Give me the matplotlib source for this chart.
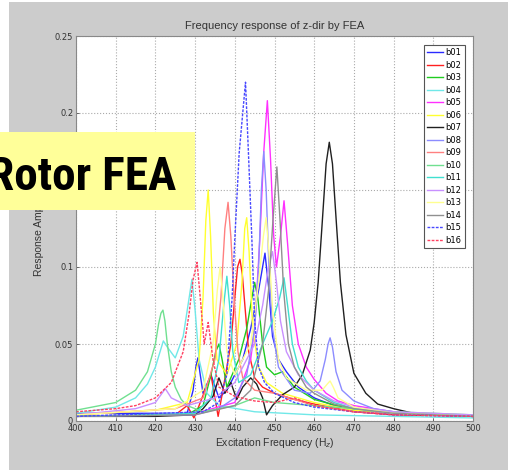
import matplotlib
matplotlib.use("Agg")
import matplotlib.pyplot as plt
from matplotlib.patches import Rectangle

# ---------------- data ----------------
names = ["b01", "b02", "b03", "b04", "b05", "b06", "b07", "b08",
         "b09", "b10", "b11", "b12", "b13", "b14", "b15", "b16"]

f_b01 = [400, 428, 429.5, 430.2, 430.7, 431.3, 432, 434, 436, 438, 440, 442, 444, 446, 447.6, 448.6, 449.5, 451, 453, 456, 460, 465, 470, 480, 500]
a_b01 = [0.005, 0.005, 0.02, 0.035, 0.041, 0.03, 0.018, 0.03, 0.015, 0.02, 0.03, 0.04, 0.06, 0.085, 0.109, 0.085, 0.055, 0.04, 0.032, 0.022, 0.015, 0.01, 0.007, 0.005, 0.003]

f_b02 = [400, 425, 428, 429.7, 431, 434, 435.8, 437, 439, 440, 440.7, 441.3, 441.9, 442.7, 443.5, 445, 447, 450, 455, 460, 470, 480, 500]
a_b02 = [0.003, 0.004, 0.01, 0.002, 0.01, 0.03, 0.003, 0.02, 0.05, 0.08, 0.1, 0.105, 0.095, 0.07, 0.045, 0.028, 0.022, 0.018, 0.014, 0.011, 0.006, 0.004, 0.003]

f_b03 = [400, 428, 432, 434, 435.2, 436, 436.8, 438, 441, 443, 444.3, 445, 445.8, 447, 448, 450, 452, 455, 460, 470, 480, 500]
a_b03 = [0.003, 0.004, 0.01, 0.03, 0.045, 0.05, 0.04, 0.022, 0.04, 0.06, 0.08, 0.09, 0.08, 0.05, 0.035, 0.03, 0.032, 0.022, 0.014, 0.007, 0.005, 0.003]

f_b04 = [400, 410, 415, 418, 420, 422, 423, 425, 427, 428.5, 429.2, 430, 431, 433, 436, 445, 460, 500]
a_b04 = [0.005, 0.009, 0.015, 0.024, 0.035, 0.052, 0.048, 0.041, 0.055, 0.08, 0.092, 0.072, 0.04, 0.018, 0.01, 0.006, 0.004, 0.002]

f_b05 = [400, 430, 440, 444, 445, 446.3, 447.3, 448.2, 449, 449.8, 450.5, 451.5, 452.4, 453.3, 454.5, 456, 458, 460, 463, 466, 470, 480, 490, 500]
a_b05 = [0.003, 0.005, 0.012, 0.04, 0.06, 0.118, 0.175, 0.208, 0.17, 0.12, 0.1, 0.12, 0.143, 0.115, 0.075, 0.05, 0.035, 0.027, 0.018, 0.013, 0.01, 0.006, 0.004, 0.003]

f_b06 = [400, 420, 428, 431, 432, 432.7, 433.3, 433.9, 434.6, 435.5, 438, 440.5, 441.8, 442.5, 443, 443.6, 444.5, 446, 448, 452, 460, 470, 500]
a_b06 = [0.004, 0.007, 0.012, 0.04, 0.08, 0.13, 0.15, 0.12, 0.07, 0.04, 0.03, 0.05, 0.09, 0.125, 0.132, 0.11, 0.06, 0.035, 0.025, 0.018, 0.012, 0.007, 0.003]

f_b07 = [400, 420, 430, 432, 434.5, 436, 437.5, 439, 440.5, 442, 444, 445.5, 447, 448, 449.5, 452, 455, 457,
         459, 460, 461, 462, 463, 463.8, 464.6, 465.6, 466.6, 468, 470, 473, 476, 480, 485, 490, 500]
a_b07 = [0.003, 0.003, 0.004, 0.008, 0.016, 0.028, 0.018, 0.025, 0.014, 0.022, 0.028, 0.024, 0.015, 0.004, 0.01, 0.017, 0.022, 0.03,
         0.046, 0.064, 0.09, 0.128, 0.167, 0.181, 0.167, 0.128, 0.09, 0.056, 0.031, 0.018, 0.011, 0.008, 0.005, 0.004, 0.003]

f_b08 = [400, 430, 436, 440, 443, 445, 446, 446.7, 447.3, 447.9, 448.6, 449.5, 451, 455, 459, 461.5, 462.8, 463.5, 464, 464.6, 465.5, 467, 470, 475, 480, 490, 500]
a_b08 = [0.003, 0.004, 0.008, 0.015, 0.03, 0.06, 0.1, 0.15, 0.175, 0.15, 0.1, 0.06, 0.035, 0.02, 0.018, 0.026, 0.04, 0.05, 0.054, 0.048, 0.032, 0.02, 0.013, 0.008, 0.006, 0.004, 0.003]

f_b09 = [400, 425, 432, 435, 436.5, 437.5, 438.3, 439, 439.8, 440.8, 442, 445, 450, 455, 460, 470, 500]
a_b09 = [0.004, 0.008, 0.015, 0.04, 0.08, 0.125, 0.142, 0.12, 0.08, 0.045, 0.028, 0.02, 0.018, 0.014, 0.01, 0.006, 0.003]

f_b10 = [400, 410, 415, 418, 420, 420.8, 421.4, 421.9, 422.4, 423, 424, 425, 426.5, 428, 432, 440, 445, 450, 460, 470, 480, 500]
a_b10 = [0.007, 0.012, 0.02, 0.032, 0.05, 0.063, 0.07, 0.072, 0.065, 0.05, 0.032, 0.022, 0.014, 0.01, 0.006, 0.01, 0.015, 0.012, 0.01, 0.008, 0.006, 0.004]

f_b11 = [400, 430, 434, 436, 437.2, 438, 438.7, 439.5, 441, 444, 447, 449.5, 451.3, 452.4, 453.3, 454.5, 456, 458, 460, 465, 470, 480, 500]
a_b11 = [0.003, 0.005, 0.015, 0.04, 0.075, 0.094, 0.075, 0.045, 0.025, 0.03, 0.05, 0.065, 0.08, 0.093, 0.075, 0.05, 0.035, 0.026, 0.02, 0.012, 0.008, 0.005, 0.003]

f_b12 = [400, 415, 420, 422.5, 424, 428, 435, 440, 445, 447, 448.5, 449.5, 450.5, 451.5, 453, 456, 460, 465, 470, 480, 500]
a_b12 = [0.004, 0.008, 0.012, 0.021, 0.015, 0.01, 0.015, 0.025, 0.05, 0.075, 0.1, 0.11, 0.09, 0.065, 0.045, 0.03, 0.02, 0.013, 0.009, 0.006, 0.004]

f_b13 = [400, 425, 432, 434.5, 435.6, 436.3, 437, 438, 440, 444, 446, 447.2, 447.9, 448.6, 449.6, 451, 453, 458, 462, 463.3, 464, 464.8, 466, 470, 480, 500]
a_b13 = [0.004, 0.008, 0.02, 0.05, 0.085, 0.1, 0.08, 0.045, 0.03, 0.05, 0.09, 0.12, 0.132, 0.11, 0.07, 0.04, 0.028, 0.02, 0.02, 0.024, 0.026, 0.022, 0.015, 0.009, 0.005, 0.003]

f_b14 = [400, 430, 440, 444, 447, 448.5, 449.6, 450.6, 451.4, 452.3, 453.5, 455, 458, 460, 465, 470, 480, 500]
a_b14 = [0.003, 0.004, 0.01, 0.02, 0.05, 0.085, 0.13, 0.165, 0.13, 0.085, 0.05, 0.035, 0.022, 0.018, 0.011, 0.008, 0.005, 0.003]

f_b15 = [400, 432, 436, 438, 439.3, 440, 441.1, 442, 442.7, 443.5, 444.3, 445, 446, 447.5, 450, 455, 460, 470, 480, 500]
a_b15 = [0.003, 0.006, 0.012, 0.03, 0.079, 0.118, 0.174, 0.2, 0.22, 0.17, 0.118, 0.065, 0.035, 0.025, 0.018, 0.012, 0.009, 0.006, 0.004, 0.003]

f_b16 = [400, 410, 415, 420, 424, 427, 428.5, 429.5, 430.5, 431.3, 432.3, 433.3, 434.5, 436, 440, 445, 450, 455, 460, 470, 480, 500]
a_b16 = [0.006, 0.008, 0.01, 0.015, 0.025, 0.045, 0.07, 0.092, 0.103, 0.08, 0.05, 0.064, 0.04, 0.022, 0.016, 0.013, 0.012, 0.015, 0.01, 0.006, 0.004, 0.003]

freqs = [f_b01, f_b02, f_b03, f_b04, f_b05, f_b06, f_b07, f_b08,
         f_b09, f_b10, f_b11, f_b12, f_b13, f_b14, f_b15, f_b16]
amps = [a_b01, a_b02, a_b03, a_b04, a_b05, a_b06, a_b07, a_b08,
        a_b09, a_b10, a_b11, a_b12, a_b13, a_b14, a_b15, a_b16]

x_ticks = [400, 410, 420, 430, 440, 450, 460, 470, 480, 490, 500]
y_ticks = [0, 0.05, 0.1, 0.15, 0.2, 0.25]
y_tick_labels = ["0", "0.05", "0.1", "0.15", "0.2", "0.25"]

# ---------------- styles ----------------
colors = ["#2a2aff", "#ff2020", "#20cc20", "#70e8e8", "#ff30ff", "#ffff30", "#202020", "#8c8cff",
          "#ff8080", "#70e090", "#40e0d0", "#c890ff", "#ffff90", "#909090", "#4848ff", "#ff4060"]
styles = ["-"] * 14 + ["--", "--"]

W, H = 508, 470
fig = plt.figure(figsize=(W / 100, H / 100), dpi=100, facecolor="white")

# gray background panel (behind the axes)
fig.patches.append(Rectangle((9 / W, 0), 1 - 9 / W, 1 - 2 / H, transform=fig.transFigure,
                             facecolor="#cccccc", edgecolor="none", zorder=-10))

ax = fig.add_axes([76 / W, 1 - 421 / H, (473 - 76) / W, (421 - 36) / H])
ax.set_zorder(1)
ax.set_facecolor("white")

for name, f, a, c, ls in zip(names, freqs, amps, colors, styles):
    if ls == "--":
        ax.plot(f, a, color=c, linewidth=1.0, label=name, dashes=(2, 1))
    else:
        ax.plot(f, a, color=c, linestyle=ls, linewidth=1.0, label=name)

ax.set_xlim(400, 500)
ax.set_ylim(0, 0.25)
ax.set_xticks(x_ticks)
ax.set_yticks(y_ticks)
ax.set_yticklabels(y_tick_labels)
ax.tick_params(direction="in", length=2, width=0.5, labelsize=6, colors="#333333", pad=2)
ax.grid(True, linestyle=":", color="#aaaaaa", linewidth=0.8)
for s in ax.spines.values():
    s.set_color("#888888")
    s.set_linewidth(0.8)

ax.set_title("Frequency response of z-dir by FEA", fontsize=8, color="#333333", pad=5,
             family=["Liberation Sans", "DejaVu Sans"])
ax.set_xlabel("Excitation Frequency (H$_z$)", fontsize=7.5, color="#333333", labelpad=2,
              family=["Liberation Sans", "DejaVu Sans"])
ax.set_ylabel("Response Amplitude", fontsize=7.5, color="#333333", labelpad=8,
              family=["Liberation Sans", "DejaVu Sans"])

leg = ax.legend(loc="upper right", bbox_to_anchor=(465 / W, 1 - 45 / H),
                bbox_transform=fig.transFigure, borderaxespad=0, fontsize=6,
                labelspacing=0.42, handlelength=1.9, handletextpad=0.3, borderpad=0.4,
                fancybox=False, framealpha=1, edgecolor="#555555")
leg.get_frame().set_linewidth(0.8)

# yellow title box (above the axes)
fig.patches.append(Rectangle((0, 1 - 210 / H), 195 / W, 78 / H, transform=fig.transFigure,
                             facecolor="#ffff99", edgecolor="none", zorder=5))
fig.text(176 / W, 1 - 190 / H, "Rotor FEA", ha="right", va="baseline", fontsize=34,
         fontweight="bold", color="black", zorder=6,
         family=["Liberation Sans Narrow", "Roboto Condensed", "Roboto", "DejaVu Sans"])

fig.savefig("out.png", dpi=100, facecolor="white")
